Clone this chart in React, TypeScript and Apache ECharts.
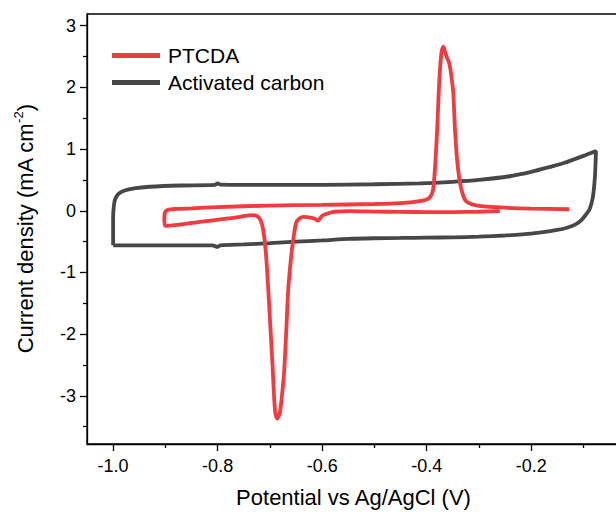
import React, { useEffect, useRef } from "react";
import * as echarts from "echarts";

const seriesNames = ["PTCDA", "Activated carbon"];

// PTCDA cyclic voltammogram (potential V, current density mA cm-2), in scan order
const ptcda: number[][] = [
  [-0.26, -0.005], [-0.3, -0.015], [-0.35, -0.02], [-0.4, -0.02], [-0.45, -0.018],
  [-0.5, -0.012], [-0.547, -0.005], [-0.575, -0.015], [-0.588, -0.04], [-0.6, -0.08],
  [-0.608, -0.16], [-0.614, -0.13], [-0.622, -0.11], [-0.635, -0.1], [-0.643, -0.12],
  [-0.65, -0.2], [-0.655, -0.45], [-0.66, -0.8], [-0.665, -1.29], [-0.669, -2.0],
  [-0.673, -2.64], [-0.677, -3.0], [-0.681, -3.27], [-0.686, -3.37], [-0.69, -3.25],
  [-0.693, -2.85], [-0.695, -2.5], [-0.699, -1.9], [-0.703, -1.29], [-0.708, -0.65],
  [-0.713, -0.3], [-0.718, -0.15], [-0.724, -0.09], [-0.732, -0.07], [-0.74, -0.075],
  [-0.776, -0.12], [-0.834, -0.18], [-0.87, -0.22], [-0.9, -0.245], [-0.902, -0.15],
  [-0.901, -0.03], [-0.895, 0.015], [-0.88, 0.03], [-0.85, 0.04], [-0.8, 0.06],
  [-0.7, 0.085], [-0.6, 0.095], [-0.5, 0.11], [-0.45, 0.125], [-0.41, 0.16],
  [-0.395, 0.21], [-0.388, 0.33], [-0.384, 0.7], [-0.38, 1.3], [-0.377, 1.9],
  [-0.374, 2.35], [-0.371, 2.6], [-0.368, 2.66], [-0.365, 2.58], [-0.361, 2.48],
  [-0.357, 2.4], [-0.353, 2.2], [-0.349, 1.9], [-0.346, 1.35], [-0.342, 0.85],
  [-0.338, 0.55], [-0.333, 0.33], [-0.326, 0.17], [-0.315, 0.11], [-0.3, 0.08],
  [-0.25, 0.05], [-0.2, 0.035], [-0.127, 0.025],
];

// Activated carbon cyclic voltammogram, closed loop
const carbon: number[][] = [
  [-1.0, -0.56], [-0.9, -0.56], [-0.81, -0.56], [-0.8, -0.585], [-0.795, -0.56],
  [-0.75, -0.545], [-0.7, -0.525], [-0.65, -0.5], [-0.6, -0.48], [-0.55, -0.455],
  [-0.5, -0.445], [-0.45, -0.44], [-0.4, -0.435], [-0.35, -0.43], [-0.3, -0.42],
  [-0.25, -0.4], [-0.2, -0.37], [-0.15, -0.31], [-0.13, -0.27], [-0.115, -0.22],
  [-0.105, -0.16], [-0.095, -0.06], [-0.088, 0.03], [-0.082, 0.22], [-0.078, 0.55],
  [-0.076, 0.97], [-0.1, 0.89], [-0.139, 0.77], [-0.16, 0.72], [-0.2, 0.63],
  [-0.241, 0.56], [-0.3, 0.5], [-0.35, 0.47], [-0.413, 0.445], [-0.5, 0.43],
  [-0.6, 0.42], [-0.7, 0.42], [-0.795, 0.425], [-0.8, 0.445], [-0.805, 0.42],
  [-0.872, 0.41], [-0.93, 0.39], [-0.96, 0.365], [-0.978, 0.33], [-0.989, 0.28],
  [-0.995, 0.21], [-0.998, 0.12], [-1.0, -0.1], [-1.0, -0.56],
];

const xMajor = [-1.0, -0.8, -0.6, -0.4, -0.2];
const xMinor = [-0.9, -0.7, -0.5, -0.3, -0.1];
const yMajor = [-3, -2, -1, 0, 1, 2, 3];
const yMinor = [-3.5, -2.5, -1.5, -0.5, 0.5, 1.5, 2.5];

const FONT = "'Liberation Sans', Arial, sans-serif";
const RED = "#f23b40";
const GRAY = "#474747";

export default function App() {
  const ref = useRef<HTMLDivElement>(null);
  useEffect(() => {
    if (!ref.current) return;
    const chart = echarts.init(ref.current, undefined, { renderer: "svg" });
    const xRange = { min: -1.05, max: -0.03 };
    const yRange = { min: -3.78, max: 3.19 };
    const tickLine = { color: "#000", width: 1.3 };
    chart.setOption({
      animation: false,
      backgroundColor: "#fff",
      textStyle: { fontFamily: FONT },
      grid: {
        left: 87, top: 14, right: -4, bottom: 68,
        show: true, borderColor: "#000", borderWidth: 1.3,
        outerBoundsMode: "none",
      },
      legend: {
        data: seriesNames,
        orient: "vertical",
        icon: "rect",
        left: 107, top: 40,
        itemWidth: 48, itemHeight: 5, itemGap: 6,
        textStyle: { fontSize: 21, color: "#000", fontFamily: FONT, padding: [0, 0, 0, 3] },
      },
      xAxis: [
        {
          type: "value", ...xRange,
          name: "Potential vs Ag/AgCl (V)",
          nameLocation: "middle", nameGap: 42,
          nameTextStyle: { fontSize: 22, color: "#000", fontFamily: FONT },
          splitLine: { show: false },
          axisLine: { show: true, onZero: false, lineStyle: tickLine },
          axisTick: { show: true, customValues: xMajor, length: 7, lineStyle: tickLine },
          axisLabel: {
            show: true, customValues: xMajor, margin: 13, fontSize: 18, color: "#000", fontFamily: FONT,
            formatter: (v: number) => v.toFixed(1),
          },
        },
        {
          type: "value", ...xRange, position: "bottom",
          splitLine: { show: false },
          axisLine: { show: false, onZero: false },
          axisTick: { show: true, customValues: xMinor, length: 4, lineStyle: tickLine },
          axisLabel: { show: false },
        },
      ],
      yAxis: [
        {
          type: "value", ...yRange,
          name: "{a|Current density (mA cm}{s|-2}{a|)}",
          nameLocation: "middle", nameGap: 49,
          nameTextStyle: {
            color: "#000",
            rich: {
              a: { fontSize: 22, fontFamily: FONT, color: "#000", lineHeight: 26 },
              s: { fontSize: 13, fontFamily: FONT, color: "#000", verticalAlign: "top", lineHeight: 14 },
            },
          },
          splitLine: { show: false },
          axisLine: { show: true, onZero: false, lineStyle: tickLine },
          axisTick: { show: true, customValues: yMajor, length: 7, lineStyle: tickLine },
          axisLabel: {
            show: true, customValues: yMajor, margin: 11, fontSize: 18, color: "#000", fontFamily: FONT,
            formatter: (v: number) => String(Math.round(v)),
          },
        },
        {
          type: "value", ...yRange, position: "left",
          splitLine: { show: false },
          axisLine: { show: false, onZero: false },
          axisTick: { show: true, customValues: yMinor, length: 4, lineStyle: tickLine },
          axisLabel: { show: false },
        },
      ],
      series: [
        {
          name: seriesNames[0], type: "line", data: ptcda, symbol: "none",
          smooth: 0.25, lineStyle: { color: RED, width: 3.8 }, itemStyle: { color: RED },
          z: 3,
        },
        {
          name: seriesNames[1], type: "line", data: carbon, symbol: "none",
          smooth: 0.25, lineStyle: { color: GRAY, width: 3.8 }, itemStyle: { color: GRAY },
          z: 2,
        },
      ],
    });
    return () => chart.dispose();
  }, []);
  return (
    <div
      ref={ref}
      style={{ position: "fixed", left: 0, top: 0, width: 616, height: 512, background: "#fff" }}
    />
  );
}
